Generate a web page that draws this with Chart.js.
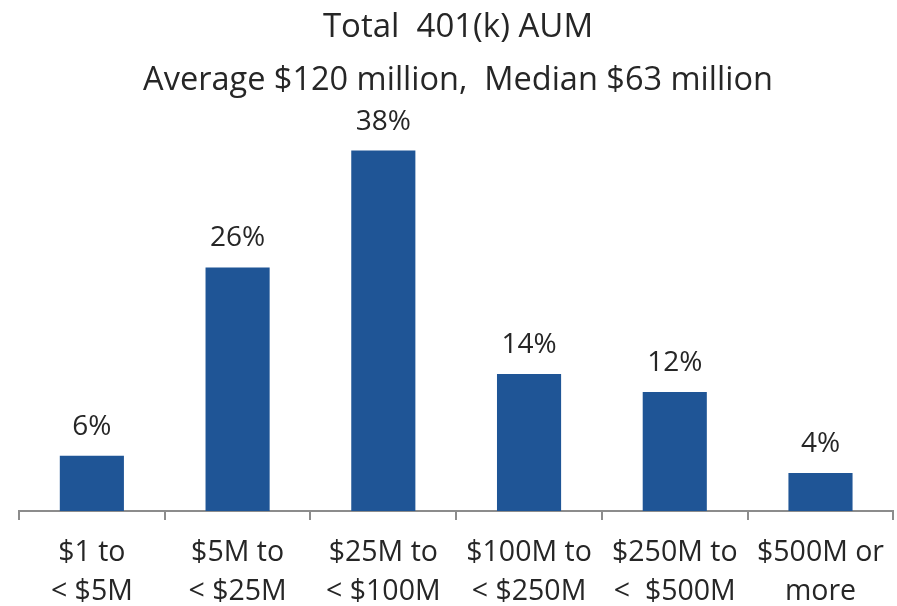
<!DOCTYPE html>
<html>
<head>
<meta charset="utf-8">
<script src="https://cdn.jsdelivr.net/npm/chart.js@4"></script>
<style>
  html, body { margin: 0; padding: 0; background: #fff; }
  #wrap { width: 897px; height: 606px; }
</style>
</head>
<body>
<div id="wrap"><canvas id="myChart"></canvas></div>
<script>
// data
var categories = [
  ['$1 to', '< $5M'],
  ['$5M to', '< $25M'],
  ['$25M to', '< $100M'],
  ['$100M to', '< $250M'],
  ['$250M to', '<  $500M'],
  ['$500M or', 'more']
];
var shares = [5.8, 25.6, 37.9, 14.4, 12.5, 4.0];
var shareLabels = ['6%', '26%', '38%', '14%', '12%', '4%'];

var fontFamily = "'Open Sans', 'Noto Sans', sans-serif";
var textColor = '#262626';

// labels above each bar
var barLabels = {
  id: 'barLabels',
  afterDatasetsDraw: function(chart) {
    var ctx = chart.ctx;
    var meta = chart.getDatasetMeta(0);
    ctx.save();
    ctx.font = '28px ' + fontFamily;
    ctx.fillStyle = textColor;
    ctx.textAlign = 'center';
    ctx.textBaseline = 'middle';
    meta.data.forEach(function(bar, i) {
      ctx.fillText(shareLabels[i], bar.x, bar.y - 29);
    });
    ctx.restore();
  }
};

var ctx = document.getElementById('myChart').getContext('2d');
var myChart = new Chart(ctx, {
  type: 'bar',
  data: {
    labels: categories,
    datasets: [{
      label: 'Share of plans',
      data: shares,
      backgroundColor: '#1F5596',
      borderWidth: 0,
      categoryPercentage: 1,
      barPercentage: 0.44
    }]
  },
  options: {
    responsive: true,
    maintainAspectRatio: false,
    animation: false,
    layout: { padding: { left: 19, right: 0, top: 0, bottom: -18 } },
    plugins: {
      legend: { display: false },
      tooltip: { enabled: false },
      title: {
        display: true,
        text: 'Total  401(k) AUM',
        color: textColor,
        font: { family: fontFamily, size: 33, weight: 'normal' },
        padding: { top: 8, bottom: 14 }
      },
      subtitle: {
        display: true,
        text: 'Average $120 million,  Median $63 million',
        color: textColor,
        font: { family: fontFamily, size: 32.5, weight: 'normal' },
        padding: { top: 0, bottom: 30 }
      }
    },
    scales: {
      y: {
        display: false,
        min: 0,
        max: 40
      },
      x: {
        border: { display: true, color: '#8c8c8c', width: 2 },
        grid: {
          offset: true,
          drawOnChartArea: false,
          drawTicks: true,
          tickLength: 9,
          color: '#8c8c8c',
          lineWidth: 2
        },
        ticks: {
          color: textColor,
          font: { family: fontFamily, size: 28.5, lineHeight: 1.37 },
          maxRotation: 0,
          autoSkip: false,
          padding: 13
        }
      }
    }
  },
  plugins: [barLabels]
});
</script>
</body>
</html>
